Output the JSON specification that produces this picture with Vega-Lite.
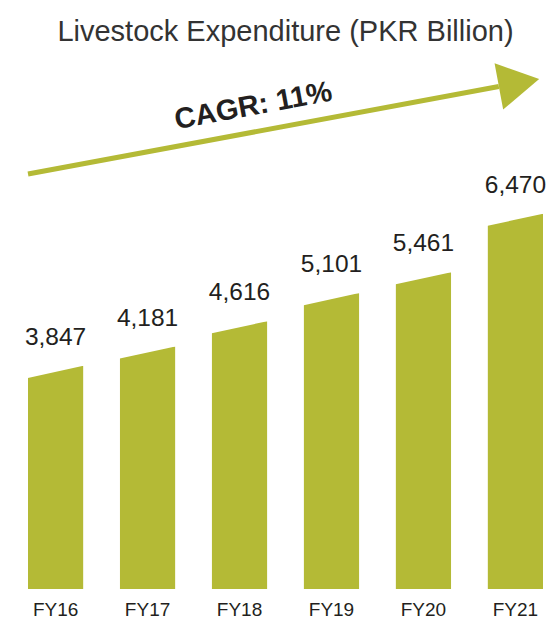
{
  "$schema": "https://vega.github.io/schema/vega-lite/v6.json",
  "autosize": {"type": "none"},
  "width": 515,
  "height": 534,
  "padding": {"left": 28, "top": 55, "right": 4, "bottom": 32},
  "background": "white",
  "title": {
    "text": "Livestock Expenditure (PKR Billion)",
    "font": "Liberation Sans",
    "fontSize": 29,
    "fontWeight": "normal",
    "color": "#333333",
    "anchor": "middle",
    "frame": "group",
    "baseline": "alphabetic",
    "offset": -15
  },
  "config": {"view": {"stroke": null}, "font": "Liberation Sans"},
  "datasets": {
    "spend": [
      {"year": "FY16", "value": 3847},
      {"year": "FY17", "value": 4181},
      {"year": "FY18", "value": 4616},
      {"year": "FY19", "value": 5101},
      {"year": "FY20", "value": 5461},
      {"year": "FY21", "value": 6470}
    ],
    "trend": [
      {"from": "FY16", "to": "FY21", "start": 7155, "end": 8665, "label": "CAGR: 11%", "labelAt": "FY18", "labelY": 8330}
    ]
  },
  "layer": [
    {
      "data": {"name": "spend"},
      "mark": {"type": "bar", "color": "#b4ba36"},
      "encoding": {
        "x": {
          "field": "year",
          "type": "ordinal",
          "scale": {"domain": ["FY16", "FY17", "FY18", "FY19", "FY20", "FY21"], "paddingInner": 0.4, "paddingOuter": 0},
          "axis": {"title": null, "domain": false, "ticks": false, "labelFontSize": 19, "labelColor": "#231f20", "labelPadding": 11, "labelAngle": 0, "labelFont": "Liberation Sans"}
        },
        "y": {"field": "value", "type": "quantitative", "scale": {"domain": [0, 9207], "nice": false}, "axis": null}
      }
    },
    {
      "data": {"name": "spend"},
      "mark": {"type": "point", "shape": "M -1.05 -0.05 L 1.05 -0.05 L 1.05 -0.011 L -1.05 0.447 Z", "filled": true, "fill": "white", "opacity": 1, "strokeWidth": 0, "size": 3025},
      "encoding": {
        "x": {"field": "year", "type": "ordinal"},
        "y": {"field": "value", "type": "quantitative"}
      }
    },
    {
      "data": {"name": "spend"},
      "mark": {"type": "text", "fontSize": 24.5, "dy": -21, "dx": 0, "baseline": "alphabetic", "align": "center", "color": "#231f20", "font": "Liberation Sans"},
      "encoding": {
        "x": {"field": "year", "type": "ordinal"},
        "y": {"field": "value", "type": "quantitative"},
        "text": {"field": "value", "type": "quantitative", "format": ","}
      }
    },
    {
      "data": {"name": "trend"},
      "mark": {"type": "rule", "color": "#b4ba36", "strokeWidth": 5},
      "encoding": {
        "x": {"field": "from", "type": "ordinal", "bandPosition": 0},
        "x2": {"field": "to", "bandPosition": 0.2},
        "y": {"field": "start", "type": "quantitative"},
        "y2": {"field": "end"}
      }
    },
    {
      "data": {"name": "trend"},
      "mark": {"type": "point", "shape": "M 0 -1 L 1.745 0 L 0 1 Z", "filled": true, "fill": "#b4ba36", "opacity": 1, "strokeWidth": 0, "size": 2209, "angle": 349.5},
      "encoding": {
        "x": {"field": "to", "type": "ordinal", "bandPosition": 0.2},
        "y": {"field": "end", "type": "quantitative"}
      }
    },
    {
      "data": {"name": "trend"},
      "mark": {"type": "text", "fontSize": 29, "fontWeight": "bold", "angle": 349.5, "align": "center", "baseline": "middle", "color": "#231f20", "font": "Liberation Sans"},
      "encoding": {
        "x": {"field": "labelAt", "type": "ordinal", "bandPosition": 0.75},
        "y": {"field": "labelY", "type": "quantitative"},
        "text": {"field": "label"}
      }
    }
  ]
}
